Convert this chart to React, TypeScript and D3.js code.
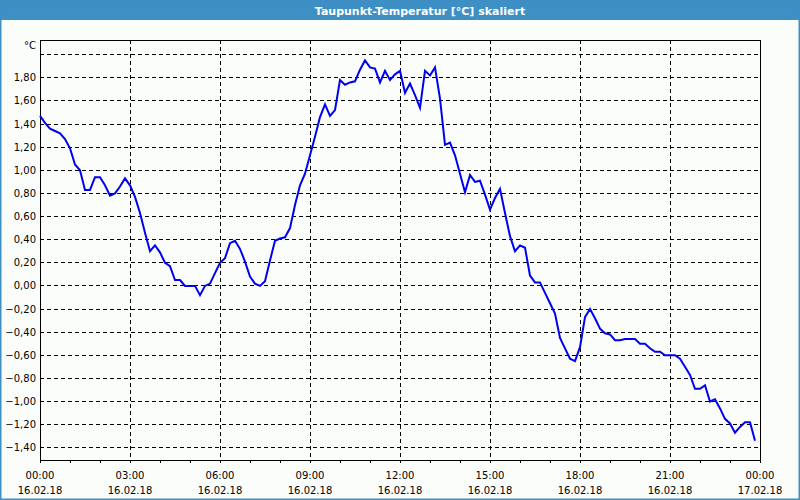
import React from "react";
import * as d3 from "d3";

// Taupunkt-Temperatur, 10-Minuten-Werte ab 16.02.18 00:00
const startTime = new Date(2018, 1, 16, 0, 0);
const endTime = new Date(2018, 1, 17, 0, 0);
const stepMinutes = 10;

const dewPoint = [
  1.47, 1.41, 1.36, 1.34, 1.32, 1.27, 1.19, 1.05, 1.0, 0.83, 0.83, 0.94,
  0.94, 0.87, 0.78, 0.8, 0.86, 0.93, 0.87, 0.77, 0.63, 0.46, 0.3, 0.35,
  0.29, 0.2, 0.17, 0.05, 0.05, 0.0, 0.0, 0.0, -0.08, 0.0, 0.02, 0.11,
  0.2, 0.24, 0.37, 0.39, 0.32, 0.21, 0.08, 0.02, 0.0, 0.04, 0.22, 0.39,
  0.41, 0.42, 0.5, 0.7, 0.87, 0.97, 1.13, 1.29, 1.46, 1.57, 1.47, 1.52,
  1.78, 1.74, 1.76, 1.77, 1.87, 1.95, 1.89, 1.88, 1.76, 1.86, 1.78, 1.83,
  1.86, 1.67, 1.75, 1.65, 1.54, 1.86, 1.82, 1.89, 1.62, 1.22, 1.24, 1.13,
  0.97, 0.81, 0.96, 0.9, 0.91, 0.79, 0.66, 0.76, 0.84, 0.63, 0.43, 0.3,
  0.35, 0.33, 0.09, 0.03, 0.03, -0.06, -0.15, -0.24, -0.45, -0.54, -0.63, -0.65,
  -0.53, -0.27, -0.2, -0.28, -0.37, -0.41, -0.42, -0.47, -0.47, -0.46, -0.46, -0.46,
  -0.5, -0.5, -0.54, -0.57, -0.57, -0.6, -0.6, -0.6, -0.63, -0.7, -0.77, -0.89,
  -0.89, -0.86, -1.0, -0.98, -1.06, -1.15, -1.19, -1.27, -1.22, -1.18, -1.18, -1.34,
];

const yGridValues = [-1.4, -1.2, -1.0, -0.8, -0.6, -0.4, -0.2, 0, 0.2, 0.4, 0.6, 0.8, 1.0, 1.2, 1.4, 1.6, 1.8, 2.0];
const yLabelValues = [-1.4, -1.2, -1.0, -0.8, -0.6, -0.4, -0.2, 0, 0.2, 0.4, 0.6, 0.8, 1.0, 1.2, 1.4, 1.6, 1.8];

const title = "Taupunkt-Temperatur [°C] skaliert";
const unit = "°C";

const W = 800;
const H = 500;
const plot = { left: 40, top: 40, right: 760, bottom: 460 };
const blue = "#3d8fc4";
const font = "'DejaVu Sans', Tahoma, sans-serif";

export default function App() {
  const x = d3.scaleTime().domain([startTime, endTime]).range([plot.left, plot.right]);
  const y = d3.scaleLinear().domain([-1.506, 2.127]).range([plot.bottom, plot.top]);

  const points = dewPoint.map((v, i) => ({
    t: new Date(startTime.getTime() + i * stepMinutes * 60000),
    v,
  }));
  const line = d3
    .line<{ t: Date; v: number }>()
    .x((d) => x(d.t))
    .y((d) => y(d.v));

  const majorTicks = x.ticks(d3.timeHour.every(3)!);
  const minorTicks = x.ticks(d3.timeHour.every(1)!);
  const fmtTime = d3.timeFormat("%H:%M");
  const fmtDate = d3.timeFormat("%d.%m.%y");
  const fmtVal = (v: number) => d3.format(".2f")(v).replace(".", ",");

  return (
    <svg
      width={W}
      height={H}
      style={{ position: "absolute", left: 0, top: 0, background: "#fbfdfb" }}
      fontFamily={font}
    >
      {/* Fensterrahmen + Titelleiste */}
      <rect x={0} y={0} width={W} height={20} fill={blue} />
      <rect x={0.75} y={0} width={W - 1.5} height={H - 0.75} fill="none" stroke={blue} strokeWidth={1.5} />
      <text x={420} y={14.5} textAnchor="middle" fill="#fff" fontSize={11} fontWeight="bold">
        {title}
      </text>

      {/* Gitter */}
      <g stroke="#000" strokeWidth={1} strokeDasharray="4,3" shapeRendering="crispEdges">
        {yGridValues.map((v) => (
          <line key={"h" + v} x1={plot.left} x2={plot.right} y1={y(v)} y2={y(v)} />
        ))}
        {majorTicks.slice(1, -1).map((t) => (
          <line key={"v" + t.getTime()} x1={x(t)} x2={x(t)} y1={plot.top} y2={plot.bottom} />
        ))}
      </g>

      {/* Rahmen und Achsen-Ticks */}
      <g stroke="#000" strokeWidth={1} shapeRendering="crispEdges">
        <rect x={plot.left} y={plot.top} width={plot.right - plot.left} height={plot.bottom - plot.top} fill="none" />
        {minorTicks.map((t) => (
          <line key={"m" + t.getTime()} x1={x(t)} x2={x(t)} y1={plot.bottom} y2={plot.bottom + 3} />
        ))}
      </g>

      {/* Y-Beschriftung */}
      <g fontSize={10} fill="#000" textAnchor="end">
        {yLabelValues.map((v) => (
          <text key={"l" + v} x={36} y={y(v)} dy="0.35em">
            {fmtVal(v)}
          </text>
        ))}
        <text x={36} y={49}>
          {unit}
        </text>
      </g>

      {/* X-Beschriftung */}
      <g fontSize={10} fill="#000" textAnchor="middle">
        {majorTicks.map((t) => (
          <g key={"x" + t.getTime()}>
            <text x={x(t)} y={479}>
              {fmtTime(t)}
            </text>
            <text x={x(t)} y={494}>
              {fmtDate(t)}
            </text>
          </g>
        ))}
      </g>

      {/* Messkurve */}
      <path d={line(points) ?? ""} fill="none" stroke="#0000f0" strokeWidth={2} strokeLinejoin="miter" />
    </svg>
  );
}
